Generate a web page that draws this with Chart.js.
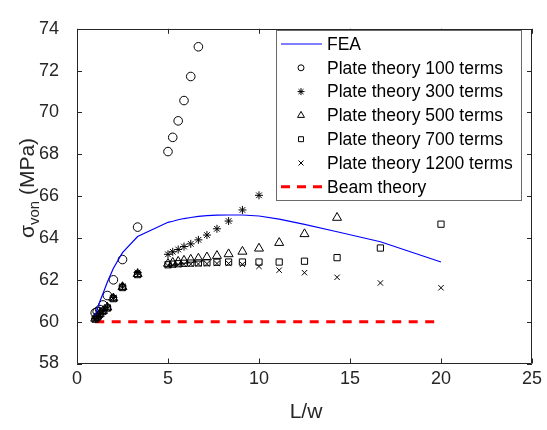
<!DOCTYPE html>
<html>
<head>
<meta charset="utf-8">
<script src="https://cdn.jsdelivr.net/npm/chart.js@4.4.0/dist/chart.umd.min.js"></script>
<style>
  body { margin: 0; background: #fff; }
  canvas { display: block; }
</style>
</head>
<body>
<canvas id="chart" width="547" height="430"></canvas>
<script>
// L/w values used by the FEA line and the plate theory series
const lw = [1, 1.11, 1.25, 1.43, 1.67, 2, 2.5, 3.33, 5, 5.26, 5.56, 5.88, 6.25, 6.67,
            7.14, 7.69, 8.33, 9.09, 10, 11.11, 12.5, 14.29, 16.67, 20];

const fea = [60.3, 60.6, 60.95, 61.35, 61.9, 62.55, 63.3, 64.07, 64.75, 64.8, 64.87, 64.93,
             64.98, 65.03, 65.07, 65.09, 65.1, 65.1, 65.05, 64.9, 64.65, 64.3, 63.82, 62.85];
const plate100 = [60.42, 60.48, 60.58, 60.8, 61.25, 62.0, 62.97, 64.52, 68.13, 68.81, 69.6,
                  70.57, 71.72, 73.14];
const plate300 = [60.15, 60.25, 60.4, 60.55, 60.7, 61.15, 61.7, 62.35, 63.22, 63.34, 63.45,
                  63.59, 63.72, 63.91, 64.14, 64.44, 64.81, 65.34, 66.04];
const plate500 = [60.15, 60.25, 60.38, 60.52, 60.68, 61.12, 61.66, 62.28, 62.77, 62.82, 62.87,
                  62.92, 62.97, 63.02, 63.08, 63.15, 63.23, 63.35, 63.5, 63.77, 64.19, 64.97];
const plate700 = [60.12, 60.22, 60.35, 60.5, 60.65, 61.1, 61.63, 62.25, 62.72, 62.75, 62.77,
                  62.79, 62.8, 62.81, 62.82, 62.84, 62.85, 62.85, 62.85, 62.85, 62.89, 63.06,
                  63.52, 64.66];
const plate1200 = [60.1, 60.2, 60.33, 60.48, 60.63, 61.08, 61.6, 62.22, 62.68, 62.7, 62.72,
                   62.74, 62.75, 62.76, 62.77, 62.78, 62.78, 62.74, 62.64, 62.46, 62.34, 62.12,
                   61.85, 61.62];
const beamX = [1, 20];
const beam = [60, 60];

const xTicks = [0, 5, 10, 15, 20, 25];
const yTicks = [58, 60, 62, 64, 66, 68, 70, 72, 74];

const seriesNames = ['FEA', 'Plate theory 100 terms', 'Plate theory 300 terms',
  'Plate theory 500 terms', 'Plate theory 700 terms', 'Plate theory 1200 terms', 'Beam theory'];

function pts(xs, ys) {
  return ys.map((v, i) => ({ x: xs[i], y: v }));
}

function markerSet(label, data, style, r) {
  return {
    label: label,
    data: pts(lw, data),
    showLine: false,
    pointStyle: style,
    pointRadius: r,
    pointHoverRadius: r,
    pointBorderColor: '#000',
    pointBackgroundColor: 'rgba(0,0,0,0)',
    pointBorderWidth: 1
  };
}

const FONT = 'Liberation Sans, Arial, sans-serif';

// legend sample for each entry
const legendStyles = [
  { line: '#0000ff', width: 1.2 },
  { style: 'circle', r: 3 },
  { style: 'star', r: 3.5 },
  { style: 'triangle', r: 4 },
  { style: 'rect', r: 3.5 },
  { style: 'crossRot', r: 3.5 },
  { line: '#ff0000', width: 3, dash: [9, 7] }
];

const framePlugin = {
  id: 'frame',
  afterDatasetsDraw(chart) {
    const ctx = chart.ctx;
    const a = chart.chartArea;
    const x = chart.scales.x, y = chart.scales.y;
    ctx.save();
    ctx.strokeStyle = '#262626';
    ctx.lineWidth = 1;
    ctx.beginPath();
    ctx.rect(Math.round(a.left) + 0.5, Math.round(a.top) + 0.5,
             Math.round(a.right - a.left) - 1, Math.round(a.bottom - a.top) - 1);
    x.ticks.forEach(t => {
      const px = Math.round(x.getPixelForValue(t.value)) + 0.5;
      ctx.moveTo(px, a.bottom); ctx.lineTo(px, a.bottom - 5);
      ctx.moveTo(px, a.top); ctx.lineTo(px, a.top + 5);
    });
    y.ticks.forEach(t => {
      const py = Math.round(y.getPixelForValue(t.value)) + 0.5;
      ctx.moveTo(a.left, py); ctx.lineTo(a.left + 5, py);
      ctx.moveTo(a.right, py); ctx.lineTo(a.right - 5, py);
    });
    ctx.stroke();

    // legend box
    const lx = 276, ly = 30, lwid = 245, lht = 170;
    ctx.fillStyle = '#fff';
    ctx.fillRect(lx, ly, lwid, lht);
    ctx.strokeStyle = '#6a6a6a';
    ctx.strokeRect(lx + 0.5, ly + 0.5, lwid, lht);
    ctx.font = '17.5px ' + FONT;
    ctx.textBaseline = 'middle';
    ctx.textAlign = 'left';
    seriesNames.forEach((name, i) => {
      const cy = 44 + i * 23.8;
      const s = legendStyles[i];
      if (s.line) {
        ctx.save();
        ctx.strokeStyle = s.line;
        ctx.lineWidth = s.width;
        ctx.setLineDash(s.dash || []);
        ctx.beginPath();
        ctx.moveTo(281, cy); ctx.lineTo(322, cy);
        ctx.stroke();
        ctx.restore();
      } else {
        ctx.save();
        ctx.strokeStyle = '#000';
        ctx.fillStyle = 'rgba(0,0,0,0)';
        ctx.lineWidth = 1;
        Chart.helpers.drawPoint(ctx, { pointStyle: s.style, radius: s.r, rotation: 0, borderWidth: 1 }, 301, cy);
        ctx.restore();
      }
      ctx.fillStyle = '#000';
      ctx.fillText(name, 327, cy + 1);
    });
    ctx.restore();
  },
  afterDraw(chart) {
    const ctx = chart.ctx;
    ctx.save();
    ctx.fillStyle = '#262626';
    // x title
    ctx.font = '21px ' + FONT;
    ctx.textAlign = 'center';
    ctx.textBaseline = 'middle';
    ctx.fillText('L/w', 306, 412);
    // y title: sigma with subscript "von"
    ctx.translate(27, 188);
    ctx.rotate(-Math.PI / 2);
    ctx.textAlign = 'left';
    ctx.textBaseline = 'alphabetic';
    const big = '21px ' + FONT, small = '15px ' + FONT;
    ctx.font = big;
    const wS = ctx.measureText('\u03c3').width;
    const wP = ctx.measureText(' (MPa)').width;
    ctx.font = small;
    const wV = ctx.measureText('von').width;
    let x0 = -(wS + wV + wP) / 2;
    ctx.font = big;
    ctx.fillText('\u03c3', x0, 7);
    ctx.font = small;
    ctx.fillText('von', x0 + wS, 12);
    ctx.font = big;
    ctx.fillText(' (MPa)', x0 + wS + wV, 7);
    ctx.restore();
  }
};

new Chart(document.getElementById('chart'), {
  type: 'scatter',
  data: {
    datasets: [
      {
        label: seriesNames[0],
        data: pts(lw, fea),
        showLine: true,
        borderColor: '#0000ff',
        borderWidth: 1.2,
        pointRadius: 0,
        fill: false
      },
      markerSet(seriesNames[1], plate100, 'circle', 4.3),
      markerSet(seriesNames[2], plate300, 'star', 4),
      markerSet(seriesNames[3], plate500, 'triangle', 5.2),
      markerSet(seriesNames[4], plate700, 'rect', 4.4),
      markerSet(seriesNames[5], plate1200, 'crossRot', 3.8),
      {
        label: seriesNames[6],
        data: pts(beamX, beam),
        showLine: true,
        borderColor: '#ff0000',
        borderWidth: 3,
        borderDash: [9, 7.5],
        pointRadius: 0,
        fill: false
      }
    ]
  },
  options: {
    responsive: false,
    devicePixelRatio: 1,
    animation: false,
    layout: { padding: { top: 16, right: 12, left: 0, bottom: 0 } },
    plugins: { legend: { display: false }, tooltip: { enabled: false } },
    scales: {
      x: {
        type: 'linear',
        min: 0, max: 25,
        afterFit(scale) { scale.height = 66.5; },
        afterBuildTicks(scale) { scale.ticks = xTicks.map(v => ({ value: v })); },
        grid: { display: false, drawTicks: false },
        border: { display: false },
        ticks: { color: '#262626', font: { family: FONT, size: 18 }, padding: 5, maxRotation: 0 }
      },
      y: {
        type: 'linear',
        min: 58, max: 74,
        afterFit(scale) { scale.width = 77; },
        afterBuildTicks(scale) { scale.ticks = yTicks.map(v => ({ value: v })); },
        grid: { display: false, drawTicks: false },
        border: { display: false },
        ticks: { color: '#262626', font: { family: FONT, size: 18 }, padding: 18 }
      }
    }
  },
  plugins: [framePlugin]
});
</script>
</body>
</html>
